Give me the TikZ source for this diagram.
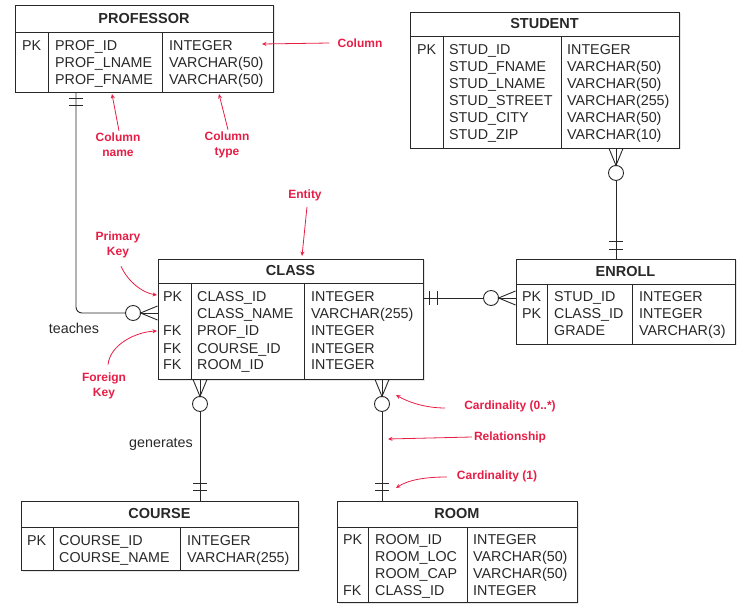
\documentclass[tikz,border=0pt]{standalone}
\usepackage{fontspec}
\setmainfont{Liberation Sans}
\usetikzlibrary{calc,arrows.meta,shadows}
\definecolor{anno}{RGB}{230,30,70}
\definecolor{ink}{RGB}{40,40,40}
\newcommand\tblrows[4]{%
  \foreach \t [count=\i] in {#4} \node[txt] (#1\i) at (#2,{#3+17*\i-17}) {\t};}
\newcommand\crowzero[3]{%
  \draw[rel] ($(#1)+({-7*(#3)},{7*(#2)})$) -- ($(#1)+({17*(#2)},{17*(#3)})$) -- ($(#1)+({7*(#3)},{-7*(#2)})$);
  \draw[rel] (#1) -- ($(#1)+({17*(#2)},{17*(#3)})$);
  \draw[rel] ($(#1)+({24.5*(#2)},{24.5*(#3)})$) circle[radius=7.5];}
\newcommand\onebar[4]{%
  \draw[rel] ($(#1)+({#4*(#2)-7*(#3)},{#4*(#3)+7*(#2)})$) -- ($(#1)+({#4*(#2)+7*(#3)},{#4*(#3)-7*(#2)})$);}
\begin{document}
\begin{tikzpicture}[x=1pt,y=-1pt,
  tbl/.style={draw=ink, line width=0.9pt, fill=white, inner sep=0pt,
    drop shadow={shadow xshift=1.5pt, shadow yshift=-1.5pt, opacity=0.2, fill=black!50}},
  ttl/.style={font=\fontsize{14.5}{17}\selectfont\bfseries, text=ink, inner sep=0pt},
  txt/.style={font=\fontsize{14.3}{17}\selectfont, text=ink, inner sep=0pt, anchor=base west},
  lbl/.style={font=\fontsize{14.3}{17}\selectfont, text=ink, inner sep=0pt},
  ann/.style={font=\fontsize{12}{15}\selectfont\bfseries, text=anno, inner sep=0pt, align=center},
  annarr/.style={draw=anno, line width=0.8pt, -{Stealth[length=4.5pt,width=4pt]}},
  rel/.style={draw=ink, line width=0.9pt},
  div/.style={draw=ink, line width=0.9pt}]
\useasboundingbox (0,0) rectangle (737,604);

% ---------- PROFESSOR ----------
\node[tbl, minimum width=258pt, minimum height=87pt] (prof) at (144,48.5) {};
\draw[div] (15,32) -- (273,32);
\draw[div] (48,32) -- (48,92);
\draw[div] (162,32) -- (162,92);
\node[ttl] (profT) at (144,18.5) {PROFESSOR};
\tblrows{profk}{22}{50.5}{PK}
\tblrows{profn}{55}{50.5}{PROF\_ID,PROF\_LNAME,PROF\_FNAME}
\tblrows{proft}{169}{50.5}{INTEGER,VARCHAR(50),VARCHAR(50)}

% ---------- STUDENT ----------
\node[tbl, minimum width=269pt, minimum height=136pt] (student) at (544.5,80) {};
\draw[div] (410,36) -- (679,36);
\draw[div] (443,36) -- (443,148);
\draw[div] (561,36) -- (561,148);
\node[ttl] (studT) at (544.5,24) {STUDENT};
\tblrows{studk}{417}{55}{PK}
\tblrows{studn}{449}{55}{STUD\_ID,STUD\_FNAME,STUD\_LNAME,STUD\_STREET,STUD\_CITY,STUD\_ZIP}
\tblrows{studt}{567}{55}{INTEGER,VARCHAR(50),VARCHAR(50),VARCHAR(255),VARCHAR(50),VARCHAR(10)}

% ---------- CLASS ----------
\node[tbl, minimum width=265pt, minimum height=120pt] (class) at (290.5,319) {};
\draw[div] (158,283) -- (423,283);
\draw[div] (191,283) -- (191,379);
\draw[div] (304,283) -- (304,379);
\node[ttl] (classT) at (290.5,271) {CLASS};
\tblrows{classk}{163}{302}{PK,{},FK,FK,FK}
\tblrows{classn}{197}{302}{CLASS\_ID,CLASS\_NAME,PROF\_ID,COURSE\_ID,ROOM\_ID}
\tblrows{classt}{311}{302}{INTEGER,VARCHAR(255),INTEGER,INTEGER,INTEGER}

% ---------- ENROLL ----------
\node[tbl, minimum width=219pt, minimum height=85pt] (enroll) at (625.5,301.5) {};
\draw[div] (516,284) -- (735,284);
\draw[div] (547,284) -- (547,344);
\draw[div] (632,284) -- (632,344);
\node[ttl] (enrT) at (625.5,271.5) {ENROLL};
\tblrows{enrk}{522}{302}{PK,PK}
\tblrows{enrn}{554}{302}{STUD\_ID,CLASS\_ID,GRADE}
\tblrows{enrt}{639}{302}{INTEGER,INTEGER,VARCHAR(3)}

% ---------- COURSE ----------
\node[tbl, minimum width=277pt, minimum height=69pt] (course) at (159.5,535.5) {};
\draw[div] (21,527) -- (298,527);
\draw[div] (53,527) -- (53,570);
\draw[div] (180,527) -- (180,570);
\node[ttl] (courT) at (159.5,514) {COURSE};
\tblrows{cork}{27}{545}{PK}
\tblrows{corn}{59}{545}{COURSE\_ID,COURSE\_NAME}
\tblrows{cort}{187}{545}{INTEGER,VARCHAR(255)}

% ---------- ROOM ----------
\node[tbl, minimum width=240pt, minimum height=101pt] (room) at (457,551.5) {};
\draw[div] (337,527) -- (577,527);
\draw[div] (368,527) -- (368,602);
\draw[div] (467,527) -- (467,602);
\node[ttl] (roomT) at (457,514) {ROOM};
\tblrows{roomk}{343}{544}{PK,{},{},FK}
\tblrows{roomn}{375}{544}{ROOM\_ID,ROOM\_LOC,ROOM\_CAP,CLASS\_ID}
\tblrows{roomt}{473}{544}{INTEGER,VARCHAR(50),VARCHAR(50),INTEGER}

% ---------- relationships ----------
\coordinate (xp) at (76,0);
\coordinate (yt) at (0,313);
\coordinate (xs) at (616,0);
\coordinate (ye) at (0,298);
\coordinate (xc) at (200,0);
\coordinate (xr) at (382,0);

% PROFESSOR -- CLASS (teaches)
\coordinate (P1) at (prof.south -| xp);
\coordinate (C1) at (class.west |- yt);
\draw[rel, rounded corners=6pt] (P1) |- ($(C1)+(-32,0)$);
\onebar{P1}{0}{1}{6}
\onebar{P1}{0}{1}{13}
\crowzero{C1}{-1}{0}
\node[lbl] (teaches) at (74,328) {teaches};

% STUDENT -- ENROLL
\coordinate (S1) at (student.south -| xs);
\coordinate (E1) at (enroll.north -| xs);
\crowzero{S1}{0}{1}
\draw[rel] ($(S1)+(0,32)$) -- (E1);
\onebar{E1}{0}{-1}{9}
\onebar{E1}{0}{-1}{17}

% CLASS -- ENROLL
\coordinate (C2) at (class.east |- ye);
\coordinate (E2) at (enroll.west |- ye);
\draw[rel] (C2) -- ($(E2)+(-32,0)$);
\onebar{C2}{1}{0}{6}
\onebar{C2}{1}{0}{14}
\crowzero{E2}{-1}{0}

% CLASS -- COURSE (generates)
\coordinate (C3) at (class.south -| xc);
\coordinate (K1) at (course.north -| xc);
\crowzero{C3}{0}{1}
\draw[rel] ($(C3)+(0,32)$) -- (K1);
\onebar{K1}{0}{-1}{10}
\onebar{K1}{0}{-1}{17}
\node[lbl] (generates) at (161,444) {generates};

% CLASS -- ROOM
\coordinate (C4) at (class.south -| xr);
\coordinate (R1) at (room.north -| xr);
\crowzero{C4}{0}{1}
\draw[rel] ($(C4)+(0,32)$) -- (R1);
\onebar{R1}{0}{-1}{10}
\onebar{R1}{0}{-1}{17}

% ---------- annotations ----------
\node[ann] (aCol) at (360,43) {Column};
\coordinate (tCol) at (262,44);
\draw[annarr] ($(aCol.west)+(-8,0)$) -- (tCol);

\node[ann] (aCN) at (118,145) {Column\\name};
\coordinate (tCN) at (112,94);
\draw[annarr] ($(aCN.north)+(1,-2)$) -- (tCN);

\node[ann] (aCT) at (227,145) {Column\\type};
\coordinate (tCT) at (219,94);
\draw[annarr] ($(aCT.north)+(1,-2)$) -- (tCT);

\node[ann] (aEnt) at (305,195) {Entity};
\coordinate (tEnt) at (302,256);
\draw[annarr] ($(aEnt.south)+(2,6)$) -- (tEnt);

\node[ann] (aPK) at (118,245) {Primary\\Key};
\coordinate (tPK) at (157,295);
\draw[annarr] ($(aPK.south)+(3,8)$) .. controls (128,282) and (143,293) .. (tPK);

\node[ann] (aFK) at (104,386) {Foreign\\Key};
\coordinate (tFK) at (157,331);
\draw[annarr] ($(aFK.north)+(4,-8)$) .. controls (110,345) and (135,332) .. (tFK);

\node[ann] (aC0) at (510,406) {Cardinality (0..*)};
\coordinate (tC0) at (396,395);
\draw[annarr] ($(aC0.west)+(-19,2)$) .. controls (425,408) and (408,402) .. (tC0);

\node[ann] (aRel) at (510,437) {Relationship};
\coordinate (tRel) at (388,439);
\draw[annarr] ($(aRel.west)+(-2,0)$) -- (tRel);

\node[ann] (aC1) at (497,476) {Cardinality (1)};
\coordinate (tC1) at (396,488);
\draw[annarr] ($(aC1.west)+(-10,1)$) .. controls (425,477) and (408,480) .. (tC1);
\end{tikzpicture}
\end{document}
